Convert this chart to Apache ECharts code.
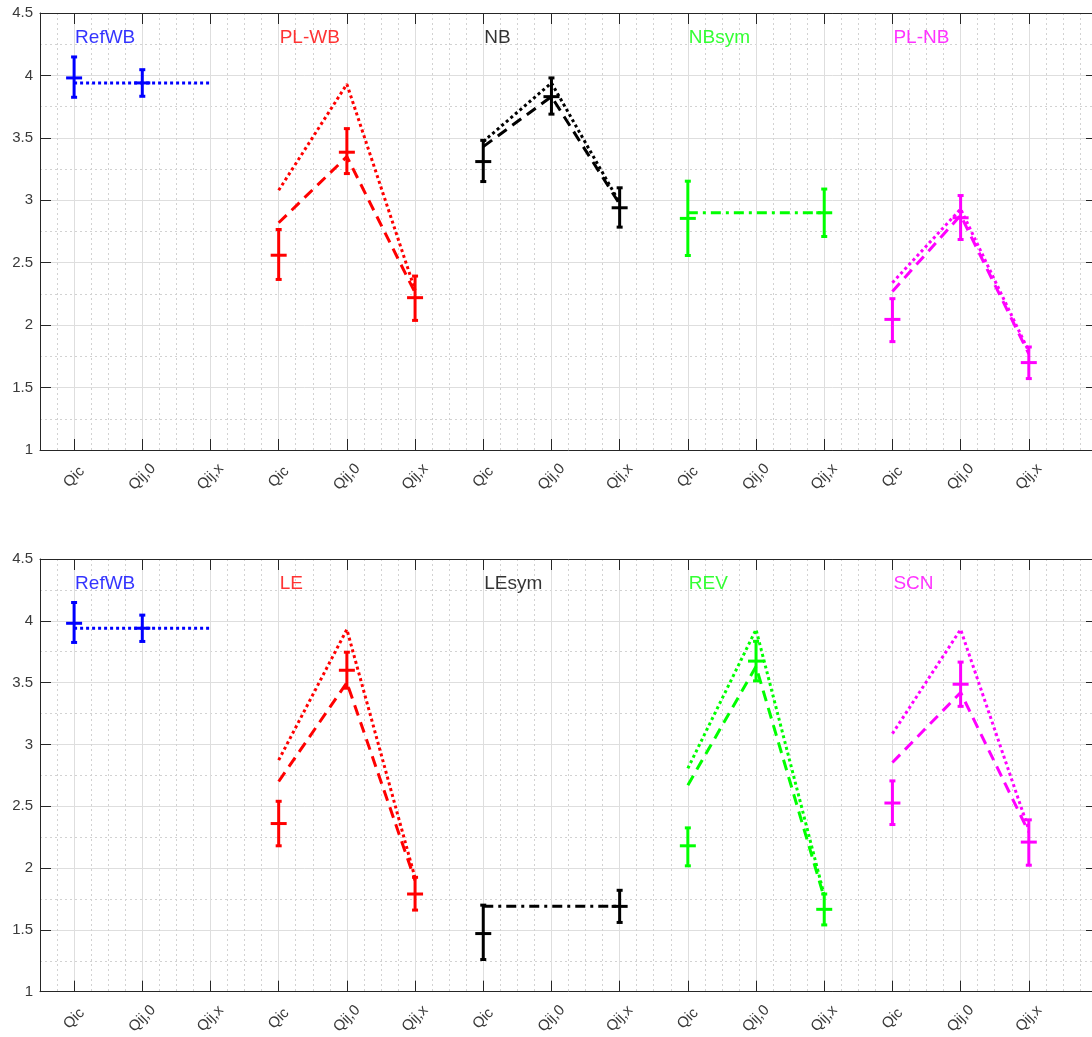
<!DOCTYPE html>
<html><head><meta charset="utf-8">
<script src="https://cdn.jsdelivr.net/npm/echarts@6/dist/echarts.min.js"></script>
<style>html,body{margin:0;padding:0;background:#fff;overflow:hidden}#c{width:1110px;height:1037px}</style>
</head><body><div id="c"></div>
<script>
// ---------- data ----------
const tickLabels = ['Qic', 'Qij,0', 'Qij,x'];
const topGroups = ['RefWB', 'PL-WB', 'NB', 'NBsym', 'PL-NB'];
const bottomGroups = ['RefWB', 'LE', 'LEsym', 'REV', 'SCN'];
const groupColors = ['#0000ff', '#ff0000', '#000000', '#00ff00', '#ff00ff'];

// measured values (null = not measured) with error-bar low/high
const topMean = [[3.98, 3.94, null], [2.56, 3.385, 2.22], [3.31, 3.83, 2.94], [2.855, null, 2.90], [2.046, 2.86, 1.70]];
const topLow  = [[3.825, 3.833, null], [2.366, 3.214, 2.038], [3.15, 3.69, 2.785], [2.558, null, 2.71], [1.868, 2.686, 1.572]];
const topHigh = [[4.148, 4.046, null], [2.766, 3.574, 2.393], [3.48, 3.98, 3.10], [3.153, null, 3.09], [2.212, 3.038, 1.825]];
const topDotted  = [[3.94, 3.94, 3.94], [3.08, 3.93, 2.28], [3.47, 3.94, 2.98], null, [2.34, 2.93, 1.79]];
const topDashed  = [null, [2.82, 3.35, 2.26], [3.43, 3.83, 2.97], null, [2.27, 2.88, 1.77]];
const topDashDot = [null, null, null, [2.90, 2.90, 2.90], null];

const bottomMean = [[3.98, 3.94, null], [2.36, 3.60, 1.79], [1.47, null, 1.69], [2.18, 3.674, 1.666], [2.526, 3.487, 2.21]];
const bottomLow  = [[3.825, 3.833, null], [2.18, 3.455, 1.66], [1.26, null, 1.56], [2.018, 3.514, 1.54], [2.352, 3.308, 2.023]];
const bottomHigh = [[4.148, 4.046, null], [2.54, 3.746, 1.925], [1.70, null, 1.82], [2.325, 3.834, 1.79], [2.705, 3.666, 2.39]];
const bottomDotted  = [[3.94, 3.94, 3.94], [2.873, 3.93, 1.92], null, [2.806, 3.93, 1.78], [3.087, 3.93, 2.31]];
const bottomDashed  = [null, [2.70, 3.50, 1.90], null, [2.67, 3.63, 1.76], [2.854, 3.42, 2.29]];
const bottomDashDot = [null, null, [1.69, 1.69, 1.69], null, null];

const groupLabelY = 4.3;

// ---------- styles ----------
const FONT = 'Liberation Sans, Arial, Helvetica, sans-serif';
const AXC = '#262626';
const TXT = '#3a3a3a';
const MAJ = '#dedede';
const MIN = '#d2d2d2';
const DOT = [3, 3];
const DASH = [11, 7];
const DASHDOT = [10, 5, 3, 5];

const nPos = topGroups.length * tickLabels.length;
const posValues = Array.from({length: nPos}, (_, i) => i + 1);

const panels = [
  {top: 13, groups: topGroups, mean: topMean, low: topLow, high: topHigh, dotted: topDotted, dashed: topDashed, dashdot: topDashDot},
  {top: 559, groups: bottomGroups, mean: bottomMean, low: bottomLow, high: bottomHigh, dotted: bottomDotted, dashed: bottomDashed, dashdot: bottomDashDot}
];

const grid = [], xAxis = [], yAxis = [], series = [];

function renderErr(params, api) {
  const x = api.value(0), m = api.value(1), lo = api.value(2), hi = api.value(3);
  const pm = api.coord([x, m]), pl = api.coord([x, lo]), ph = api.coord([x, hi]);
  const c = api.visual('color');
  const st = {stroke: c, lineWidth: 3, lineCap: 'butt', fill: null};
  return {type: 'group', children: [
    {type: 'line', shape: {x1: pl[0], y1: pl[1], x2: ph[0], y2: ph[1]}, style: st},
    {type: 'line', shape: {x1: pl[0] - 3, y1: pl[1], x2: pl[0] + 3, y2: pl[1]}, style: st},
    {type: 'line', shape: {x1: ph[0] - 3, y1: ph[1], x2: ph[0] + 3, y2: ph[1]}, style: st},
    {type: 'line', shape: {x1: pm[0] - 8, y1: pm[1], x2: pm[0] + 8, y2: pm[1]}, style: st}
  ]};
}

panels.forEach((p, pi) => {
  grid.push({left: 40, top: p.top, width: 1057, height: 437, containLabel: false});
  const xb = pi * 3;
  // minor vertical grid
  xAxis.push({type: 'value', gridIndex: pi, min: 0.5, max: 16, interval: 0.25,
    axisLine: {show: false}, axisTick: {show: false}, axisLabel: {show: false},
    splitLine: {show: true, lineStyle: {color: MIN, type: [2, 3], width: 1}}});
  // major bottom axis
  xAxis.push({type: 'value', gridIndex: pi, min: 0.5, max: 16, position: 'bottom',
    axisLine: {show: true, onZero: false, lineStyle: {color: AXC, width: 1}},
    axisTick: {show: true, inside: true, length: 11, customValues: posValues, lineStyle: {color: AXC, width: 1}},
    axisLabel: {show: true, customValues: posValues, rotate: 45, align: 'center', verticalAlign: 'middle', margin: 27,
      color: TXT, fontSize: 15, fontFamily: FONT,
      formatter: v => tickLabels[(Math.round(v) - 1) % tickLabels.length]},
    splitLine: {show: true, lineStyle: {color: MAJ, width: 1}}});
  // top axis
  xAxis.push({type: 'value', gridIndex: pi, min: 0.5, max: 16, position: 'top',
    axisLine: {show: true, onZero: false, lineStyle: {color: AXC, width: 1}},
    axisTick: {show: true, inside: true, length: 11, customValues: posValues, lineStyle: {color: AXC, width: 1}},
    axisLabel: {show: false}, splitLine: {show: false}});
  const yb = pi * 2;
  yAxis.push({type: 'value', gridIndex: pi, min: 1, max: 4.5, interval: 0.5, position: 'left',
    axisLine: {show: true, onZero: false, lineStyle: {color: AXC, width: 1}},
    axisTick: {show: true, inside: true, length: 11, lineStyle: {color: AXC}},
    axisLabel: {show: true, color: TXT, fontSize: 15, fontFamily: FONT, margin: 7, formatter: v => String(v)},
    splitLine: {show: true, lineStyle: {color: MAJ, width: 1}},
    minorTick: {show: false, splitNumber: 2},
    minorSplitLine: {show: true, lineStyle: {color: MIN, type: [2, 3], width: 1}}});
  yAxis.push({type: 'value', gridIndex: pi, min: 1, max: 4.5, interval: 0.5, position: 'right',
    axisLine: {show: true, onZero: false, lineStyle: {color: AXC, width: 1}},
    axisTick: {show: true, inside: true, length: 11, lineStyle: {color: AXC}},
    axisLabel: {show: false}, splitLine: {show: false}});

  const lineKinds = [['dotted', DOT], ['dashed', DASH], ['dashdot', DASHDOT]];
  p.groups.forEach((g, gi) => {
    const color = groupColors[gi];
    const base = gi * tickLabels.length + 1;
    lineKinds.forEach(([key, dash]) => {
      const vals = p[key][gi];
      if (!vals) return;
      series.push({type: 'line', xAxisIndex: xb, yAxisIndex: yb, symbol: 'none', silent: true,
        data: vals.map((v, k) => [base + k, v]),
        lineStyle: {color: color, width: 3, type: dash, cap: 'butt'}, z: 3});
    });
    const errData = [];
    p.mean[gi].forEach((m, k) => {
      if (m === null) return;
      errData.push([base + k, m, p.low[gi][k], p.high[gi][k]]);
    });
    series.push({type: 'custom', xAxisIndex: xb, yAxisIndex: yb, renderItem: renderErr,
      itemStyle: {color: color}, encode: {x: 0, y: [1, 2, 3]}, data: errData, z: 4, silent: true});
    series.push({type: 'scatter', xAxisIndex: xb, yAxisIndex: yb, symbolSize: 0, silent: true,
      data: [[base, groupLabelY]],
      label: {show: true, position: 'right', distance: 1, formatter: g, color: color, fontSize: 19, fontFamily: FONT},
      z: 5});
  });
});

const chart = echarts.init(document.getElementById('c'), null, {renderer: 'canvas'});
chart.setOption({animation: false, backgroundColor: '#ffffff', grid, xAxis, yAxis, series});
</script>
</body></html>
